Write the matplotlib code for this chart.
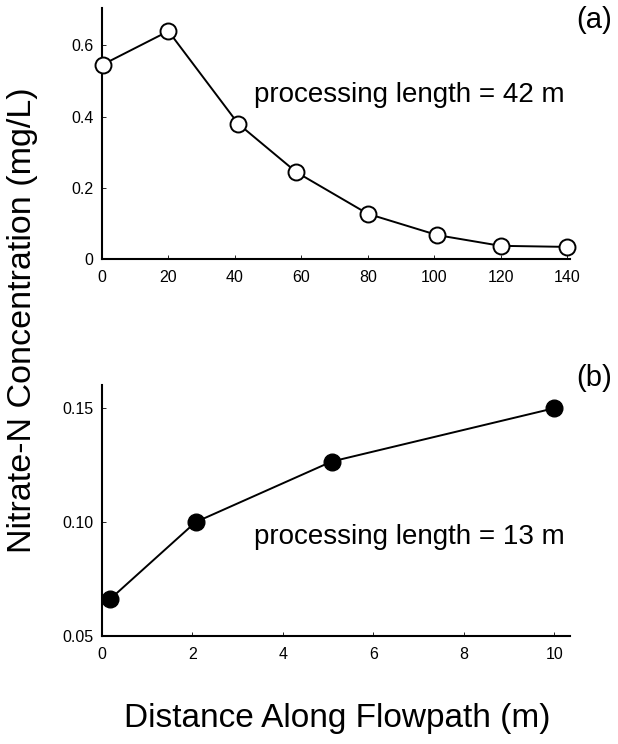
import matplotlib
matplotlib.use("Agg")
import matplotlib.pyplot as plt

plt.rcParams['font.family'] = ['Liberation Sans', 'DejaVu Sans']

# Panel (a) data
dist_a = [0.2, 20, 41, 58.5, 80, 101, 120, 140]
conc_a = [0.546, 0.640, 0.380, 0.244, 0.127, 0.067, 0.037, 0.034]
xticks_a = [0, 20, 40, 60, 80, 100, 120, 140]
yticks_a = [0, 0.2, 0.4, 0.6]
yticklabels_a = ["0", "0.2", "0.4", "0.6"]

# Panel (b) data
dist_b = [0.18, 2.07, 5.08, 10.0]
conc_b = [0.0662, 0.100, 0.1266, 0.150]
xticks_b = [0, 2, 4, 6, 8, 10]
yticks_b = [0.05, 0.10, 0.15]
yticklabels_b = ["0.05", "0.10", "0.15"]

W, H = 618, 744
fig = plt.figure(figsize=(W / 100, H / 100), dpi=100)

def box(l, t, r, b):
    return [l / W, 1 - b / H, (r - l) / W, (b - t) / H]

ax_a = fig.add_axes(box(102, 8, 570, 259))
ax_b = fig.add_axes(box(102, 385, 570, 636))

for ax in (ax_a, ax_b):
    for s in ("top", "right"):
        ax.spines[s].set_visible(False)
    for s in ("left", "bottom"):
        ax.spines[s].set_linewidth(1.5)
        ax.spines[s].set_color("black")
    ax.tick_params(direction="in", length=3, width=0.6, labelsize=11.5, pad=6)
    ax.tick_params(axis="x", pad=8)
    ax.patch.set_alpha(0)

ax_a.plot(dist_a, conc_a, color="black", lw=1.4, marker="o", ms=11.5,
          mfc="white", mec="black", mew=1.4, clip_on=False, zorder=3)
ax_a.set_xlim(0, 140.9)
ax_a.set_ylim(0, 0.705)
ax_a.set_xticks(xticks_a)
ax_a.set_yticks(yticks_a)
ax_a.set_yticklabels(yticklabels_a)
fig.text(254 / W, 1 - 95 / H, "processing length = 42 m", fontsize=20,
         ha="left", va="center")
fig.text(612 / W, 1 - 20 / H, "(a)", fontsize=21, ha="right", va="center")

ax_b.plot(dist_b, conc_b, color="black", lw=1.4, marker="o", ms=12,
          mfc="black", mec="black", clip_on=False, zorder=3)
ax_b.set_xlim(0, 10.35)
ax_b.set_ylim(0.05, 0.1602)
ax_b.set_xticks(xticks_b)
ax_b.set_yticks(yticks_b)
ax_b.set_yticklabels(yticklabels_b)
fig.text(254 / W, 1 - 537 / H, "processing length = 13 m", fontsize=20,
         ha="left", va="center")
fig.text(612 / W, 1 - 378 / H, "(b)", fontsize=21, ha="right", va="center")

fig.text(23 / W, 1 - 320.5 / H, "Nitrate-N Concentration (mg/L)", rotation=90,
         fontsize=24.5, ha="center", va="center")
fig.text(337 / W, 1 - 718 / H, "Distance Along Flowpath (m)", fontsize=24,
         ha="center", va="center")

fig.savefig("out.png", dpi=100)
